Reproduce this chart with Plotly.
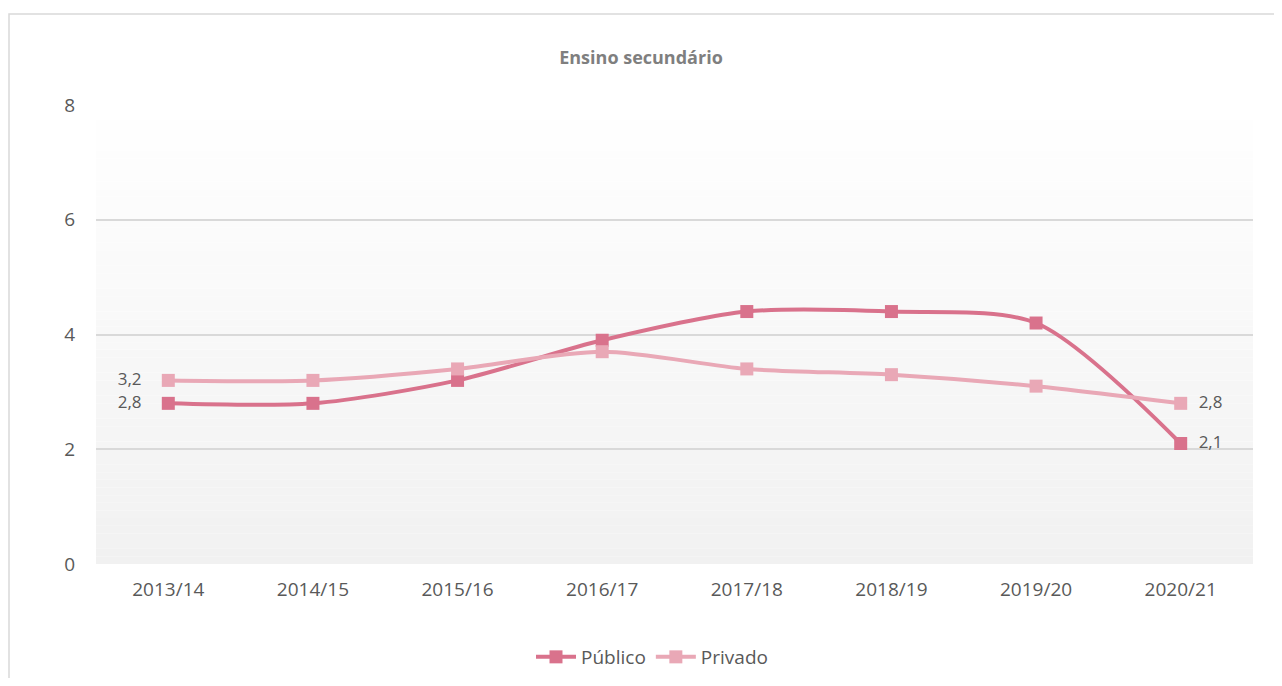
import plotly.graph_objects as go

categories = ["2013/14", "2014/15", "2015/16", "2016/17", "2017/18", "2018/19", "2019/20", "2020/21"]
publico = [2.8, 2.8, 3.2, 3.9, 4.4, 4.4, 4.2, 2.1]
privado = [3.2, 3.2, 3.4, 3.7, 3.4, 3.3, 3.1, 2.8]
y_ticks = [0, 2, 4, 6, 8]

OFF = 8  # page body margin
W, H = 1266, 670
ml, mr, mt, mb = 96 - OFF, 21, 105 - OFF, H + OFF - 564
pw, ph = W - ml - mr, H - mt - mb

c_pub = "#D9728C"
c_pri = "#E9A8B6"
txt = "#595959"
font = "Open Sans"
fs = 19


def labels(vals):
    out = []
    for i, v in enumerate(vals):
        s = f"{v:.1f}".replace(".", ",")
        if i == 0:
            out.append(s + "    ")
        elif i == len(vals) - 1:
            out.append("  " + s)
        else:
            out.append("")
    return out


pos = ["middle left"] + ["middle center"] * (len(categories) - 2) + ["middle right"]

fig = go.Figure()
fig.add_trace(go.Scatter(
    x=categories, y=publico, name="Público", mode="lines+markers+text",
    line=dict(color=c_pub, width=4, shape="spline", smoothing=0.8),
    marker=dict(symbol="square", size=13, color=c_pub),
    text=labels(publico), textposition=pos,
    textfont=dict(family=font, size=17, color=txt),
))
fig.add_trace(go.Scatter(
    x=categories, y=privado, name="Privado", mode="lines+markers+text",
    line=dict(color=c_pri, width=4, shape="spline", smoothing=0.8),
    marker=dict(symbol="square", size=13, color=c_pri),
    text=labels(privado), textposition=pos,
    textfont=dict(family=font, size=17, color=txt),
))

# gradient background (white at top to light grey at bottom)
shapes = []
n = 60
y_max = y_ticks[-1]
for i in range(n):
    y0 = y_max * i / n
    y1 = y_max * (i + 1) / n
    f = 1 - (i + 0.5) / n  # 1 at bottom, 0 at top
    g = round(255 - (255 - 241) * f)
    shapes.append(dict(type="rect", xref="paper", yref="y", x0=0, x1=1, y0=y0, y1=y1,
                       fillcolor=f"rgb({g},{g},{g})", line=dict(width=0), layer="below"))

# chart border (top and left visible)
bx0 = (8 - OFF - ml + 1) / pw
by1 = (H - mb - (14 - OFF)) / ph
shapes.append(dict(type="rect", xref="paper", yref="paper", x0=bx0, x1=1.2, y0=-0.5, y1=by1,
                   line=dict(color="#D9D9D9", width=1.5), fillcolor="rgba(0,0,0,0)", layer="below"))

fig.update_layout(
    width=W, height=H,
    margin=dict(l=ml, r=mr, t=mt, b=mb, autoexpand=False),
    paper_bgcolor="white", plot_bgcolor="white",
    separators=", ",
    title=dict(text="<b>Ensino secundário</b>", x=(641 - OFF) / W, xanchor="center",
               y=1 - (58 - OFF) / H, yanchor="middle",
               font=dict(family=font, size=18, color="#7F7F7F")),
    font=dict(family=font, size=fs, color=txt),
    xaxis=dict(range=[-0.5, len(categories) - 0.5], showgrid=False, zeroline=False, showline=False,
               ticks="", automargin=False,
               tickfont=dict(family=font, size=fs, color=txt), ticklabelstandoff=12),
    yaxis=dict(range=[0, 8], tickvals=y_ticks, showgrid=True, gridcolor="#D9D9D9", gridwidth=1.5,
               zeroline=False, showline=False, ticks="", automargin=False,
               tickfont=dict(family=font, size=fs, color=txt), ticklabelstandoff=20),
    legend=dict(orientation="h", x=(652 - OFF - ml) / pw, xanchor="center",
                y=-(657 - 564) / ph, yanchor="middle",
                font=dict(family=font, size=fs, color=txt), itemwidth=40),
    shapes=shapes,
    showlegend=True,
)

fig.write_html("out.html")
